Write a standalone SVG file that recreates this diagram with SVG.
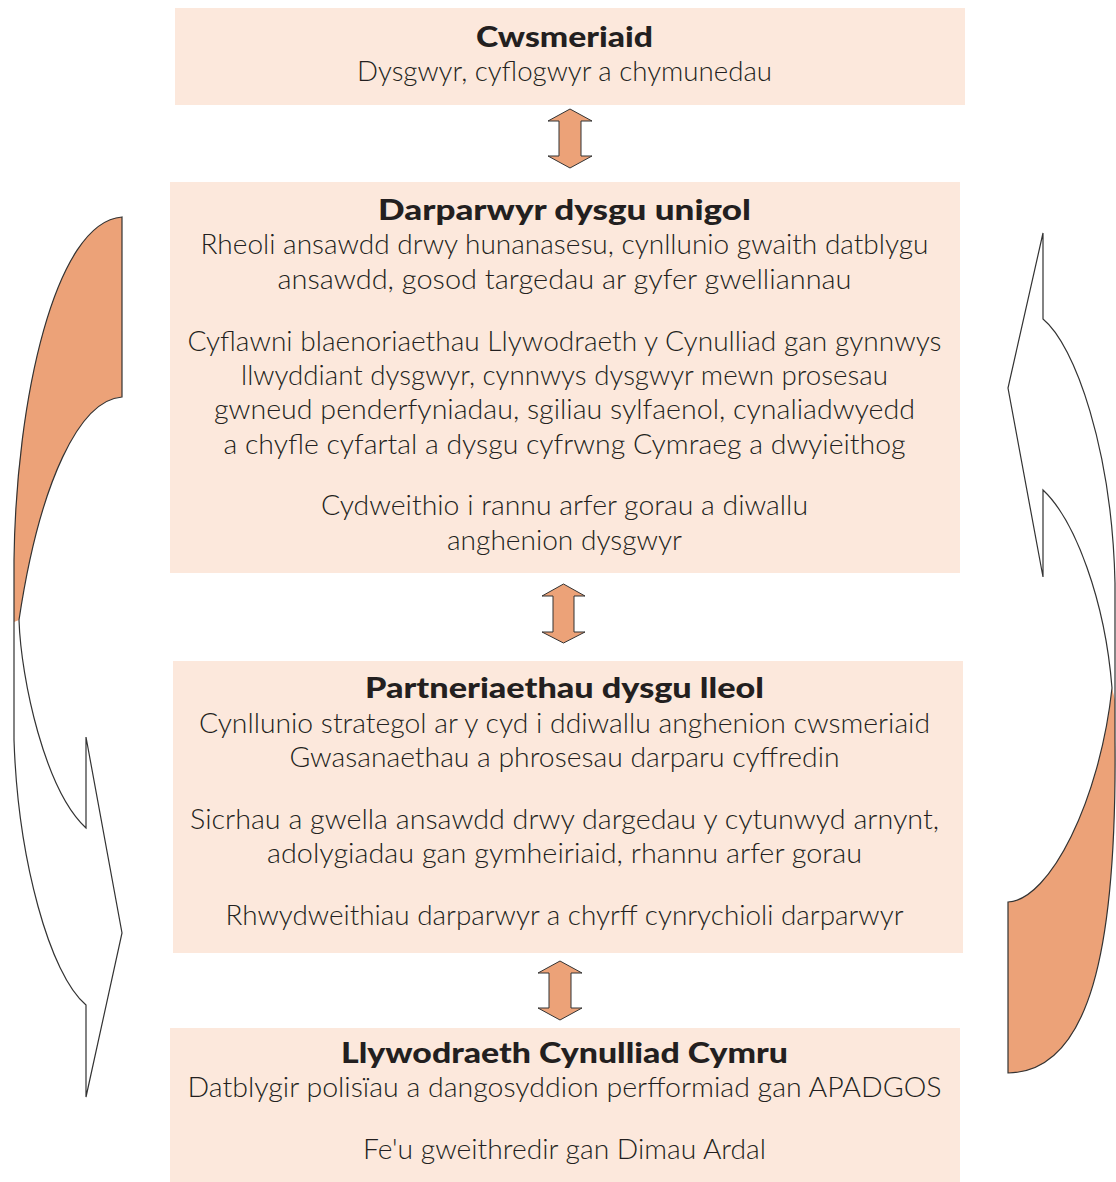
<svg xmlns="http://www.w3.org/2000/svg" width="1116" height="1182" viewBox="0 0 1116 1182">
<style>
.box{fill:#fce8dc}
.t{font-family:Lato,"Open Sans","Liberation Sans",sans-serif;font-size:27px;font-weight:300;fill:#231f20;text-anchor:middle}
.h{font-family:Lato,"Open Sans","Liberation Sans",sans-serif;font-size:28px;font-weight:900;fill:#231f20;text-anchor:middle}
.arr{fill:#eca278;stroke:#333;stroke-width:1;stroke-linejoin:miter}
.ol{fill:none;stroke:#333;stroke-width:1.2;stroke-linejoin:miter}
.of{fill:#eca278;stroke:none}
</style>
<rect width="1116" height="1182" fill="#fff"/>
<g id="cwsmeriaid">
<rect class="box" x="175" y="8" width="790" height="97"/>
<text class="h" x="564.5" y="47" textLength="177" lengthAdjust="spacingAndGlyphs">Cwsmeriaid</text>
<text class="t" x="564.5" y="81" textLength="415" lengthAdjust="spacingAndGlyphs">Dysgwyr, cyflogwyr a chymunedau</text>
</g>
<g id="darparwyr">
<rect class="box" x="170" y="182" width="790" height="391"/>
<text class="h" x="564.5" y="220" textLength="373" lengthAdjust="spacingAndGlyphs">Darparwyr dysgu unigol</text>
<text class="t" x="564.5" y="254" textLength="728" lengthAdjust="spacingAndGlyphs">Rheoli ansawdd drwy hunanasesu, cynllunio gwaith datblygu</text>
<text class="t" x="564.5" y="289" textLength="574" lengthAdjust="spacingAndGlyphs">ansawdd, gosod targedau ar gyfer gwelliannau</text>
<text class="t" x="564.5" y="351" textLength="754" lengthAdjust="spacingAndGlyphs">Cyflawni blaenoriaethau Llywodraeth y Cynulliad gan gynnwys</text>
<text class="t" x="564.5" y="385" textLength="647" lengthAdjust="spacingAndGlyphs">llwyddiant dysgwyr, cynnwys dysgwyr mewn prosesau</text>
<text class="t" x="564.5" y="419" textLength="701" lengthAdjust="spacingAndGlyphs">gwneud penderfyniadau, sgiliau sylfaenol, cynaliadwyedd</text>
<text class="t" x="564.5" y="454" textLength="682" lengthAdjust="spacingAndGlyphs">a chyfle cyfartal a dysgu cyfrwng Cymraeg a dwyieithog</text>
<text class="t" x="564.5" y="515" textLength="487" lengthAdjust="spacingAndGlyphs">Cydweithio i rannu arfer gorau a diwallu</text>
<text class="t" x="564.5" y="550" textLength="235" lengthAdjust="spacingAndGlyphs">anghenion dysgwyr</text>
</g>
<g id="partneriaethau">
<rect class="box" x="173" y="661" width="790" height="292"/>
<text class="h" x="564.5" y="698" textLength="399" lengthAdjust="spacingAndGlyphs">Partneriaethau dysgu lleol</text>
<text class="t" x="564.5" y="733" textLength="731" lengthAdjust="spacingAndGlyphs">Cynllunio strategol ar y cyd i ddiwallu anghenion cwsmeriaid</text>
<text class="t" x="564.5" y="767" textLength="550" lengthAdjust="spacingAndGlyphs">Gwasanaethau a phrosesau darparu cyffredin</text>
<text class="t" x="564.5" y="829" textLength="749" lengthAdjust="spacingAndGlyphs">Sicrhau a gwella ansawdd drwy dargedau y cytunwyd arnynt,</text>
<text class="t" x="564.5" y="863" textLength="595" lengthAdjust="spacingAndGlyphs">adolygiadau gan gymheiriaid, rhannu arfer gorau</text>
<text class="t" x="564.5" y="925" textLength="678" lengthAdjust="spacingAndGlyphs">Rhwydweithiau darparwyr a chyrff cynrychioli darparwyr</text>
</g>
<g id="llywodraeth">
<rect class="box" x="170" y="1028" width="790" height="154"/>
<text class="h" x="564.5" y="1063" textLength="447" lengthAdjust="spacingAndGlyphs">Llywodraeth Cynulliad Cymru</text>
<text class="t" x="564.5" y="1097" textLength="754" lengthAdjust="spacingAndGlyphs">Datblygir polisïau a dangosyddion perfformiad gan APADGOS</text>
<text class="t" x="564.5" y="1159" textLength="403" lengthAdjust="spacingAndGlyphs">Fe'u gweithredir gan Dimau Ardal</text>
</g>
<g id="connectors">
<path class="arr" d="M570,109 L592,121 L581,121 L581,156 L592,156 L570,168 L548,156 L559,156 L559,121 L548,121 Z"/>
<path class="arr" d="M563.5,584 L585,596 L574,596 L574,632 L585,632 L563.5,643 L542,632 L553,632 L553,596 L542,596 Z"/>
<path class="arr" d="M560,961 L582,973 L571,973 L571,1008 L582,1008 L560,1020 L538,1008 L549,1008 L549,973 L538,973 Z"/>
<g id="left-cycle">
<path class="of" d="M122,217 C55,222 16,400 14,560 L14,622 L19,620 C40,480 80,400 122,397 Z"/>
<path class="ol" d="M122,217 C55,222 16,400 14,560 L14,740 C18,860 50,975 86,1005 L86,1097 L122,933 L86,737 L86,828 C45,790 21,680 19,620 C40,480 80,400 122,397 Z"/>
</g>
<g id="right-cycle">
<path class="of" d="M1112,688 L1115,700 L1115,740 C1117,950 1090,1072 1008,1073 L1008,902 C1050,900 1100,800 1112,688 Z"/>
<path class="ol" d="M1043,233 L1043,319 C1075,345 1112,450 1115,583 L1115,740 C1117,950 1090,1072 1008,1073 L1008,902 C1050,900 1100,800 1112,688 C1105,600 1075,520 1043,490 L1043,577 L1008,388 Z"/>
</g>
</g>
</svg>
